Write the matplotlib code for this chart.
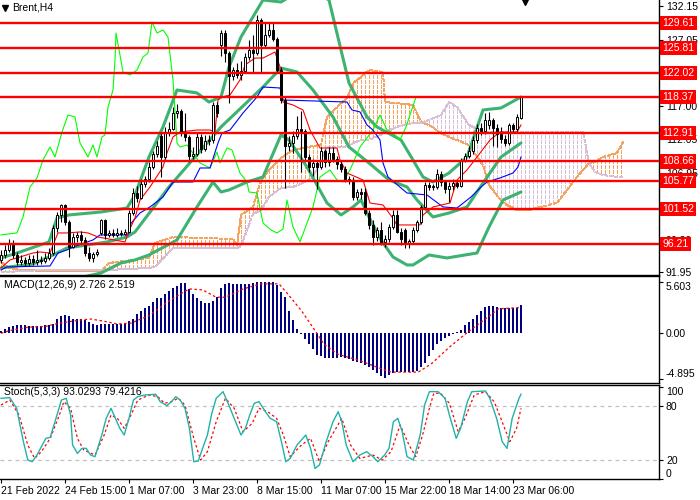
import numpy as np
import matplotlib
matplotlib.use("Agg")
import matplotlib.pyplot as plt
from matplotlib.path import Path
from matplotlib.transforms import blended_transform_factory

plt.rcParams['font.family'] = ['Liberation Sans', 'DejaVu Sans']
plt.rcParams['font.size'] = 7.5

# ---- Brent H4 candles (bar index 0..130) ----
opens = [93.8, 94.5, 95.3, 96.3, 94.5, 93.5, 93.8, 93.3, 93.9, 93.4,
         93.8, 93.6, 94.0, 94.8, 98.6, 100.5, 102.0, 99.5, 95.8, 97.2,
         97.6, 96.8, 94.8, 94.0, 94.6, 97.8, 99.8, 97.6, 97.9, 97.5,
         97.9, 97.7, 98.0, 100.9, 103.9, 103.2, 105.2, 106.0, 107.8, 109.8,
         112.5, 109.3, 113.0, 113.6, 116.0, 116.3, 113.0, 112.3, 109.5, 109.8,
         112.3, 110.5, 111.8, 111.9, 117.2, 126.3, 128.1, 125.0, 121.5, 122.5,
         121.7, 122.3, 124.5, 125.5, 125.0, 130.0, 126.3, 127.8, 128.5, 127.2,
         122.5, 118.0, 111.0, 111.5, 112.5, 113.5, 113.2, 109.3, 107.8, 108.4,
         107.8, 110.3, 108.5, 110.0, 109.0, 108.2, 107.5, 106.0, 105.8, 103.3,
         104.0, 104.0, 100.9, 99.1, 97.2, 98.3, 96.5, 97.0, 98.8, 100.5,
         98.0, 98.3, 96.3, 96.6, 98.3, 99.5, 101.7, 105.1, 104.8, 104.8,
         106.8, 105.5, 104.5, 104.9, 105.4, 105.0, 108.9, 109.5, 110.2, 111.9,
         113.7, 113.2, 114.2, 114.9, 113.7, 112.8, 112.0, 111.5, 114.2, 113.5,
         115.2]
highs = [95.2, 96.0, 97.0, 96.8, 95.0, 94.5, 94.2, 94.5, 94.5, 95.2,
         94.4, 94.8, 95.5, 99.0, 101.0, 102.3, 102.3, 99.8, 97.8, 98.0,
         98.2, 97.3, 95.8, 95.0, 95.4, 100.0, 100.0, 98.3, 98.5, 98.6,
         98.3, 98.5, 101.3, 104.6, 105.0, 106.0, 106.5, 108.5, 110.3, 111.8,
         112.9, 113.9, 114.6, 116.9, 117.3, 116.6, 116.0, 112.6, 110.8, 112.9,
         112.8, 112.6, 112.6, 117.6, 117.6, 128.6, 128.6, 125.4, 123.0, 123.5,
         123.8, 125.0, 127.0, 127.8, 130.8, 130.3, 129.8, 129.6, 129.6, 127.5,
         123.0, 118.5, 112.5, 113.3, 115.5, 116.3, 113.5, 109.8, 109.0, 108.8,
         110.8, 110.6, 110.8, 110.8, 109.5, 108.8, 108.0, 106.5, 106.3, 104.5,
         104.6, 104.6, 101.3, 99.8, 98.8, 99.5, 97.6, 99.2, 101.3, 101.3,
         98.6, 98.6, 97.0, 98.8, 99.8, 102.0, 105.5, 105.6, 105.3, 107.5,
         107.2, 105.8, 105.5, 106.0, 105.9, 109.2, 110.0, 111.0, 112.5, 114.3,
         114.5, 116.0, 116.1, 115.2, 114.3, 113.8, 112.6, 114.4, 114.5, 115.8,
         118.5]
lows = [93.3, 94.0, 95.0, 94.0, 93.0, 93.0, 92.8, 93.0, 93.0, 93.0,
        93.2, 93.3, 93.8, 94.5, 98.0, 99.5, 99.0, 94.2, 95.5, 96.5,
        96.3, 94.3, 93.6, 93.5, 94.3, 97.5, 97.0, 97.2, 97.2, 97.3,
        97.4, 97.5, 97.8, 100.5, 102.5, 103.0, 104.8, 105.5, 107.5, 109.3,
        106.3, 109.0, 112.5, 113.4, 115.2, 112.5, 111.8, 108.5, 109.0, 109.5,
        110.0, 110.2, 111.2, 111.5, 115.4, 124.6, 123.7, 117.5, 121.0, 121.2,
        121.0, 122.0, 124.0, 122.0, 124.8, 122.0, 125.8, 127.5, 126.8, 122.0,
        117.5, 104.6, 110.3, 110.0, 112.0, 107.0, 108.8, 107.0, 106.5, 104.5,
        107.5, 107.8, 108.0, 108.6, 107.5, 107.0, 105.5, 105.2, 102.8, 102.8,
        103.0, 100.5, 98.5, 96.0, 96.6, 96.0, 95.8, 96.5, 98.5, 97.8,
        96.0, 95.6, 95.5, 96.3, 98.0, 99.2, 101.5, 104.3, 104.3, 104.5,
        105.0, 103.9, 102.5, 104.3, 104.7, 104.8, 108.5, 109.2, 109.8, 111.5,
        112.7, 112.8, 113.6, 111.0, 110.8, 111.5, 111.0, 111.2, 113.0, 113.2,
        115.0]
closes = [94.5, 95.3, 96.3, 94.5, 93.5, 93.8, 93.3, 93.9, 93.4, 93.8,
          93.6, 94.0, 94.8, 98.6, 100.5, 102.0, 99.5, 95.8, 97.2, 97.6,
          96.8, 94.8, 94.0, 94.6, 95.0, 99.8, 97.6, 97.9, 97.5, 97.9,
          97.7, 98.0, 100.9, 103.9, 103.2, 105.2, 106.0, 107.8, 109.8, 111.0,
          109.3, 113.0, 113.6, 116.0, 116.3, 113.0, 112.3, 109.5, 109.8, 112.3,
          110.5, 111.8, 111.9, 117.2, 116.0, 128.1, 125.0, 121.5, 122.5, 121.7,
          122.3, 124.5, 125.5, 125.0, 130.0, 126.3, 127.8, 128.5, 127.2, 122.5,
          118.0, 111.0, 111.5, 112.5, 113.5, 113.2, 109.3, 107.8, 108.4, 107.8,
          110.3, 108.5, 110.0, 109.0, 108.2, 107.5, 106.0, 105.8, 103.3, 104.0,
          103.8, 100.9, 99.1, 97.2, 98.3, 96.5, 97.0, 98.8, 100.5, 98.0,
          97.0, 96.3, 96.6, 98.3, 99.5, 101.7, 105.1, 104.8, 105.0, 106.8,
          105.5, 104.5, 104.9, 105.4, 105.0, 108.9, 109.5, 110.2, 111.9, 113.7,
          113.2, 114.9, 114.9, 113.7, 112.8, 112.0, 111.5, 114.2, 113.5, 115.4,
          118.4]

# ---- horizontal levels ----
levels = [129.61, 125.81, 122.02, 118.37, 112.91, 108.66, 105.77, 101.52, 96.21]
price_ticks = [132.15, 127.05, 122.05, 117.00, 112.05, 106.95, 101.90, 96.80, 91.95]
hidden_ticks = [122.05, 101.90]   # fully covered by level boxes in the original

# ---- Bollinger bands (bar, value) ----
bb_up_bar = [0, 4, 12, 14, 17, 25, 31.5, 33.5, 37, 40.5, 44, 49, 52, 55, 57, 60, 65.5,
             70, 75, 78.5, 82, 85, 87, 91.5, 94, 100, 103, 105.5, 108, 112, 116.5, 120.5, 125, 130]
bb_up = [94.07, 94.82, 96.49, 100.11, 100.57, 101.02, 101.62, 103.59, 109.33, 113.87, 119.46,
         119.01, 117.64, 118.40, 122.93, 127.47, 133.06, 132.76, 134.57, 134.27, 133.06, 125.5,
         120.52, 115.38, 113.87, 111.90, 108.88, 106.31, 105.55, 106.91, 109.33, 116.44, 116.74, 118.40]
bb_mid_bar = [0, 8, 12, 16.5, 21.5, 26.5, 31.5, 33.5, 42, 55, 65.5, 70, 74, 78, 83, 87, 92,
              97, 101.5, 104, 108, 112, 116.5, 120.5, 125, 130]
bb_mid = [92.56, 93.16, 94.22, 95.58, 96.03, 96.49, 97.24, 98.0, 104.8, 113.87, 119.91, 122.78,
          122.18, 119.46, 115.38, 110.84, 108.43, 105.86, 104.8, 102.83, 100.26, 100.87, 101.78,
          105.40, 109.33, 111.45]
bb_lo_bar = [0, 12, 25, 30, 33.5, 37, 44, 49, 53, 55, 57, 61.5, 65.5, 70, 72, 76.5, 81.5, 85,
             88, 90, 92, 95, 98, 101.5, 103, 107, 111.5, 119, 122, 125.5, 130]
bb_lo = [89.5, 90.0, 91.8, 93.31, 93.77, 94.52, 96.79, 101.78, 105.55, 104.04, 104.35, 105.55,
         106.31, 112.66, 111.9, 107.82, 102.38, 100.57, 101.78, 102.83, 100.26, 96.79, 94.22,
         93.01, 93.01, 94.52, 94.07, 94.82, 98.75, 102.83, 104.04]

# ---- Ichimoku ----
tk_bar = [0, 2.25, 4.75, 8, 9.75, 12.25, 13, 14.25, 16.5, 19.75, 21.75, 24.25, 31, 31.75, 33.5,
          34.75, 37.25, 40.5, 41.5, 43, 44.75, 49, 52.25, 53.5, 54.25, 55.25, 57.25, 59.75, 61,
          63.5, 65.5, 68.5, 69.75, 70.5, 73, 75.5, 77.25, 79.75, 84, 84.75, 86.5, 90.5, 92.25,
          95.5, 97.75, 99, 104.75, 105.5, 108, 112.25, 114, 116.5, 119, 122.25, 124.75, 129, 130]
tenkan = [92.56, 93.77, 94.22, 94.82, 94.97, 94.82, 96.03, 97.85, 97.85, 98.0, 97.85, 97.24,
          96.49, 97.85, 100.11, 102.83, 104.8, 107.82, 109.94, 112.36, 113.11, 113.41, 113.41,
          113.11, 117.95, 118.4, 118.7, 120.97, 123.24, 124.29, 124.29, 125.2, 122.93, 117.64,
          117.19, 116.44, 113.41, 110.69, 110.69, 108.88, 106.91, 105.86, 102.38, 102.08, 100.26,
          99.06, 99.06, 100.57, 101.78, 102.38, 105.86, 107.37, 109.33, 111.9, 113.11, 113.11, 114.17]
kj_bar = [0, 1.5, 12.25, 14.25, 16.5, 18, 23, 24.75, 31.75, 32.5, 34.75, 37.25, 40.5, 43, 48,
          49.75, 52.25, 54.25, 55.25, 57.25, 60.5, 64, 65.5, 69.75, 70.5, 86.5, 87.75, 89.75,
          91.5, 93, 94.75, 95.5, 96.75, 101.5, 106.5, 110.5, 114, 117.5, 120, 121.5, 124.75,
          128, 129.25, 130]
kijun = [92.26, 92.71, 92.86, 94.82, 95.28, 95.73, 96.79, 97.55, 97.55, 99.3, 100.87, 101.78,
         103.29, 105.55, 105.55, 107.67, 107.67, 111.45, 112.96, 113.41, 115.98, 118.4, 119.91,
         119.76, 117.95, 117.64, 116.44, 116.14, 114.17, 113.41, 111.9, 108.43, 106.31, 103.89,
         103.59, 101.78, 101.62, 103.29, 104.8, 105.55, 106.16, 106.91, 107.82, 109.33]
ch_bar = [0, 4, 5.5, 7.25, 9, 10.5, 12.25, 13.5, 15.25, 16.75, 18.5, 19.75, 21.75, 23, 24,
          25.25, 26, 26.75, 28, 28.5, 28.75, 30.5, 32.25, 34, 35.5, 36.75, 37.75, 39, 40.5,
          41.75, 43, 44, 44.75, 46.5, 49.75, 52.25, 54, 54.75, 56.5, 57.75, 59.75, 61.5, 62,
          64, 65.5, 67.5, 69, 70.5, 71.5, 73, 74.75, 78, 79.75, 82.25, 84, 85.5, 87.25, 89.75,
          93, 94.75, 96.5, 98, 99.75, 101.25, 103.75, 104]
chikou = [97.55, 97.85, 100.26, 104.8, 106.16, 108.88, 110.84, 109.33, 113.11, 115.68, 115.38,
          111.45, 109.33, 111.15, 109.33, 112.36, 112.66, 116.89, 119.46, 124.0, 128.07, 122.18,
          121.73, 122.48, 124.44, 125.05, 129.74, 128.07, 128.53, 127.47, 120.97, 111.45, 110.84,
          111.15, 108.43, 107.67, 110.08, 108.43, 110.69, 110.39, 106.91, 105.55, 104.04, 103.89,
          99.36, 98.3, 97.85, 98.45, 102.83, 98.75, 96.49, 101.78, 106.31, 107.37, 105.86,
          105.55, 107.37, 110.84, 113.41, 115.68, 113.41, 112.96, 111.9, 113.87, 118.4, 118.4]
cloud_bar = [0, 2, 5, 12, 25, 27, 37, 38.5, 43, 58, 59, 60, 63, 65, 67, 70, 73, 75.5, 78, 80,
             81.5, 84, 86.5, 88, 90, 92, 95.5, 96, 99, 103, 105, 107, 110, 112, 114, 117, 120.5,
             122, 125.5, 129, 132, 139, 143, 145.5, 147, 148.5, 150.5, 154, 155.5]
span_a = [93.46, 92.56, 92.26, 92.10, 92.10, 93.31, 94.07, 96.34, 97.24, 96.94,
          96.03, 100.57, 101.78, 105.86, 107.37, 109.18, 110.39, 110.69, 111.0, 111.15,
          115.38, 116.89, 118.25, 120.52, 121.42, 122.48, 122.18, 117.64, 117.49, 117.19,
          114.62, 114.17, 112.96, 112.36, 111.9, 111.15, 108.12, 105.10, 102.38, 101.32,
          101.32, 102.38, 105.55, 107.37, 108.43, 108.6, 109.33, 109.94, 111.60]
span_b = [91.95, 91.95, 92.10, 92.26, 92.26, 92.26, 92.56, 92.71, 95.58, 95.58,
          95.58, 95.88, 100.72, 101.32, 103.29, 104.65, 104.80, 105.40, 106.31, 108.88,
          110.84, 110.84, 110.84, 111.45, 111.90, 111.90, 112.81, 113.11, 113.87, 114.47,
          114.47, 114.92, 115.68, 117.64, 116.89, 114.17, 113.11, 113.11, 113.11, 113.11,
          113.11, 113.11, 113.11, 113.11, 108.43, 107.06, 106.61, 106.31, 106.31]

# ---- MACD(12,26,9) ----
macd_hist = [0.3, 0.5, 0.65, 0.75, 0.85, 0.85, 0.85, 0.8, 0.8, 0.8,
             0.8, 0.85, 0.9, 1.0, 1.5, 1.9, 2.0, 1.9, 1.6, 1.55,
             1.5, 1.4, 1.2, 1.0, 0.9, 1.0, 1.05, 1.0, 1.0, 1.0,
             1.0, 1.1, 1.3, 1.6, 2.1, 2.4, 2.7, 3.0, 3.4, 3.8,
             3.8, 4.2, 4.6, 4.9, 5.15, 5.4, 5.4, 4.8, 4.3, 3.8,
             3.5, 3.3, 3.3, 3.5, 3.9, 4.9, 5.3, 5.4, 5.35, 5.3,
             5.3, 5.3, 5.35, 5.4, 5.6, 5.6, 5.55, 5.6, 5.5, 5.2,
             4.5, 3.9, 2.4, 1.4, 0.5, -0.1, -0.6, -1.2, -1.7, -2.3,
             -2.5, -2.7, -2.7, -2.7, -2.7, -2.6, -2.7, -2.8, -2.95, -3.1,
             -3.2, -3.4, -3.7, -4.0, -4.3, -4.6, -4.85, -4.5, -4.3, -4.2,
             -4.2, -4.2, -4.2, -4.2, -4.1, -3.7, -3.2, -2.5, -1.8, -1.2,
             -0.8, -0.5, -0.3, -0.1, 0.1, 0.4, 0.9, 1.2, 1.6, 2.0,
             2.4, 2.8, 3.0, 2.95, 2.85, 2.7, 2.7, 2.7, 2.7, 2.75,
             3.05]
sig_bar = [0, 2.2, 6.7, 11.2, 14.6, 20.2, 22.4, 25.8, 29.1, 32.5, 37, 41.5, 44.8, 47.1, 50.4,
           53.8, 56.1, 60.5, 65, 69.5, 71.7, 75.1, 78.5, 80.7, 84.1, 89.7, 94.2, 97.5, 104.3,
           107.6, 112.1, 116.6, 121.1, 124.4, 130]
macd_sig = [0.0, 0.3, 0.65, 0.75, 1.1, 1.45, 1.55, 1.3, 1.0, 1.1, 1.9, 3.35, 4.25, 4.8, 4.7,
            3.9, 3.9, 4.8, 5.35, 5.35, 4.25, 2.45, 0.3, -1.15, -2.25, -2.95, -3.7, -4.2, -4.2,
            -3.3, -1.5, 0.1, 1.55, 2.65, 2.8]

# ---- Stochastic(5,3,3) ----
stk_bar = [0, 2.2, 3.9, 5.6, 6.7, 7.8, 9, 10.1, 11.2, 12.3, 14, 15.1, 16.3, 17.4, 17.9, 19.1,
           20.2, 21.3, 22.4, 23.5, 25.2, 26.3, 27.5, 28.6, 29.7, 30.8, 32, 33.1, 34.2, 35.9,
           38.7, 39.8, 41.5, 42.6, 43.7, 44.8, 46, 47.1, 48.2, 49.3, 50.4, 51.6, 52.7, 53.8,
           55.5, 56.6, 58.3, 60, 61.1, 62.2, 63.3, 64.5, 66.1, 67.3, 68.9, 70.1, 71.2, 72.3, 74,
           76.2, 77.4, 78.5, 79.6, 81.3, 83, 84.3, 85.2, 86.3, 88, 89.7, 91.4, 93, 94.2, 95.9,
           97, 98.1, 99.2, 100.3, 101.5, 103.1, 104.8, 105.9, 107.1, 109.3, 111, 112.1, 113.8,
           114.9, 116.6, 117.7, 121.1, 122.2, 123.9, 125.3, 126.5, 127.8, 129.5, 130]
stoch_k = [88.1, 88.8, 77.1, 40.5, 20.3, 18.5, 25.8, 35.0, 44.1, 45.2,
           69.8, 86.2, 88.1, 69.8, 36.8, 27.6, 33.1, 33.1, 25.8, 24.0,
           47.8, 66.1, 77.1, 66.1, 55.1, 47.8, 66.1, 86.2, 89.9, 91.7,
           92.5, 84.4, 80.0, 84.4, 89.9, 86.2, 77.1, 55.1, 18.5, 19.2,
           33.1, 47.8, 71.6, 88.1, 95.4, 84.4, 66.1, 47.8, 55.1, 69.8,
           82.6, 84.4, 73.4, 66.1, 62.4, 40.5, 18.5, 22.1, 36.8, 47.8,
           33.1, 11.1, 14.8, 40.5, 62.4, 73.4, 62.4, 36.8, 18.5, 25.8,
           29.5, 24.0, 18.5, 25.8, 33.1, 62.4, 66.1, 51.4, 24.0, 20.3,
           47.8, 80.7, 95.4, 95.4, 88.1, 69.8, 44.1, 55.1, 84.4, 95.4,
           96.1, 88.1, 66.1, 40.5, 33.1, 66.1, 88.1, 92.5]
std_bar = [0, 2.2, 4.5, 6.7, 8.4, 10.1, 12.3, 14.6, 15.7, 17.4, 19.1, 20.7, 23.5, 25.8, 27.5,
           29.1, 30.8, 32.5, 34.2, 37, 39.2, 40.9, 42.6, 44.3, 46, 48.2, 49.9, 51.6, 53.8, 56.1,
           58.3, 60.5, 62.8, 64.5, 66.7, 68.9, 70.6, 72.3, 75.1, 77.4, 79.6, 81.8, 85.2, 87.4,
           89.7, 93, 95.3, 97.5, 99.8, 102, 103.7, 105.4, 107.1, 108.2, 109.9, 112.1, 114.3,
           116, 118.3, 121.1, 123.3, 125.6, 127.2, 128.9, 130]
stoch_d = [80.7, 86.2, 69.8, 36.8, 22.1, 29.5, 44.1, 69.8, 84.4, 77.1,
           44.1, 31.3, 25.8, 47.8, 69.8, 66.1, 55.1, 69.8, 86.2, 91.7,
           89.9, 82.6, 84.4, 88.1, 80.7, 44.1, 20.3, 29.5, 62.4, 88.1,
           77.1, 51.4, 60.6, 77.1, 73.4, 66.1, 47.8, 24.0, 36.8, 44.1,
           18.5, 40.5, 66.1, 36.8, 22.1, 25.8, 20.3, 29.5, 58.8, 36.8,
           24.0, 47.8, 77.1, 93.6, 93.6, 82.6, 51.4, 66.1, 91.7, 95.4,
           84.4, 58.8, 40.5, 55.1, 77.1]

date_bars = [0, 16, 32, 48, 64, 80, 96, 112, 128]
date_labels = ['21 Feb 2022', '24 Feb 15:00', '1 Mar 07:00', '3 Mar 23:00', '8 Mar 15:00',
               '11 Mar 07:00', '15 Mar 22:00', '18 Mar 14:00', '23 Mar 06:00']

W, H = 700, 500
fig = plt.figure(figsize=(7, 5), dpi=100)
ax = fig.add_axes([0, 1 - 274.5 / H, 659 / W, 274.5 / H])
ax2 = fig.add_axes([0, 1 - 383 / H, 659 / W, 107 / H], sharex=ax)
ax3 = fig.add_axes([0, 1 - 479 / H, 659 / W, 94 / H], sharex=ax)

xlim = (-0.25, 164.5)

# ---- main panel: cloud as dotted vertical hatch clipped to the span polygons ----
ca, cbv, cx = np.array(span_a), np.array(span_b), np.array(cloud_bar)
hatch_x = np.arange(0, 157)
for mask, col in [(ca >= cbv, '#F4A460'), (ca < cbv, '#D8BFD8')]:
    poly = ax.fill_between(cx, ca, cbv, where=mask, interpolate=True,
                           facecolor='none', edgecolor='none')
    paths = [p for p in poly.get_paths() if len(p.vertices)]
    if not paths:
        continue
    clip = Path.make_compound_path(*paths)
    vl = ax.vlines(hatch_x, 85, 140, colors=col, linestyles=(0, (3, 2)),
                   linewidth=0.72, zorder=1, antialiased=False)
    vl.set_clip_path(clip, ax.transData)
ax.plot(cx, ca, color='#F4A460', lw=0.72, ls=(0, (3, 2)), zorder=1, antialiased=False)
ax.plot(cx, cbv, color='#D8BFD8', lw=0.72, ls=(0, (3, 2)), zorder=1, antialiased=False)

bb_col = '#3CB371'
for bx, by in [(bb_up_bar, bb_up), (bb_mid_bar, bb_mid), (bb_lo_bar, bb_lo)]:
    ax.plot(bx, by, color=bb_col, lw=2.2, zorder=2, solid_capstyle='round')

ax.plot(ch_bar, chikou, color='#00FF00', lw=0.8, zorder=3)
ax.plot(kj_bar, kijun, color='#0000FF', lw=0.8, zorder=3)
ax.plot(tk_bar, tenkan, color='#FF0000', lw=0.8, zorder=3)

o, hi, lo, c = map(np.array, (opens, highs, lows, closes))
x = np.arange(len(c))
ax.vlines(x, lo, hi, color='black', lw=0.8, zorder=4)
up = c >= o
ax.bar(x[up], (c - o)[up], bottom=o[up], width=0.55, facecolor='white',
       edgecolor='black', lw=0.7, zorder=5)
ax.bar(x[~up], (o - c)[~up], bottom=c[~up], width=0.55, facecolor='black',
       edgecolor='black', lw=0.7, zorder=5)

trans = blended_transform_factory(ax.transAxes, ax.transData)
for lv in levels:
    ax.axhline(lv, color='#FF0000', lw=1.7, zorder=6)
    ax.text(1.005, lv, f'{lv:.2f}', transform=trans, ha='left', va='center', color='white',
            fontsize=7.5, zorder=10, clip_on=False,
            bbox=dict(boxstyle='square,pad=0.2', fc='#FF0000', ec='none'))

ax.set_xlim(*xlim)
ax.set_ylim(91.57, 133.06)
ax.set_yticks(price_ticks)
ax.set_yticklabels(['' if t in hidden_ticks else f'{t:.2f}' for t in price_ticks])
ax.plot([5 / 659], [1 - 8 / 274.5], marker='v', ms=4, color='black', transform=ax.transAxes)
ax.text(12 / 659, 1 - 8 / 274.5, 'Brent,H4', transform=ax.transAxes, va='center', ha='left')
ax.plot([131], [1.0], marker='v', ms=7, color='black', clip_on=False,
        transform=blended_transform_factory(ax.transData, ax.transAxes))

# ---- MACD panel ----
mh = np.array(macd_hist)
ax2.bar(np.arange(len(mh)), mh, width=0.65, color='#000080', zorder=2)
ax2.plot(sig_bar, macd_sig, color='#FF0000', lw=0.9, ls=(0, (2, 2)), zorder=3)
ax2.set_ylim(-5.38, 6.2)
ax2.set_yticks([-4.895, 0, 5.603])
ax2.set_yticklabels(['-4.895', '0.00', '5.603'])
ax2.text(0.006, 0.916, 'MACD(12,26,9) 2.726 2.519', transform=ax2.transAxes, va='center')

# ---- Stochastic panel ----
ax3.plot(std_bar, stoch_d, color='#FF0000', lw=0.9, ls=(0, (2, 2)), zorder=3)
ax3.plot(stk_bar, stoch_k, color='#20B2AA', lw=1.0, zorder=4)
for lv in (20, 80):
    ax3.axhline(lv, color='#C0C0C0', lw=0.9, ls=(0, (3, 3)), zorder=1)
ax3.set_ylim(-0.5, 102.7)
ax3.set_yticks([0, 20, 80, 100])
ax3.set_yticklabels(['0', '20', '80', '100'])
ax3.text(0.006, 0.925, 'Stoch(5,3,3) 93.0293 79.4216', transform=ax3.transAxes, va='center')
ax3.set_xticks(date_bars)
ax3.set_xticklabels(date_labels)
for lbl in ax3.get_xticklabels():
    lbl.set_ha('left')

for a in (ax, ax2, ax3):
    a.set_facecolor('white')
    a.spines['left'].set_visible(False)
    for s in ('right', 'bottom', 'top'):
        a.spines[s].set_color('black')
        a.spines[s].set_linewidth(1.0)
    a.yaxis.tick_right()
    a.tick_params(axis='y', direction='out', length=3, pad=2, labelsize=7.5, width=0.8)
    a.tick_params(axis='x', direction='out', length=3, pad=2, labelsize=7.5, width=0.8)
ax.spines['top'].set_visible(False)
for lbl in ax2.get_yticklabels():
    if lbl.get_text() == '5.603':
        lbl.set_va('top')
    elif lbl.get_text() == '-4.895':
        lbl.set_va('bottom')
for lbl in ax3.get_yticklabels():
    if lbl.get_text() == '100':
        lbl.set_va('top')
    elif lbl.get_text() == '0':
        lbl.set_va('bottom')
ax.tick_params(axis='x', bottom=False, labelbottom=False)
ax2.tick_params(axis='x', bottom=False, labelbottom=False)

fig.savefig('out.png', dpi=100, facecolor='white')
